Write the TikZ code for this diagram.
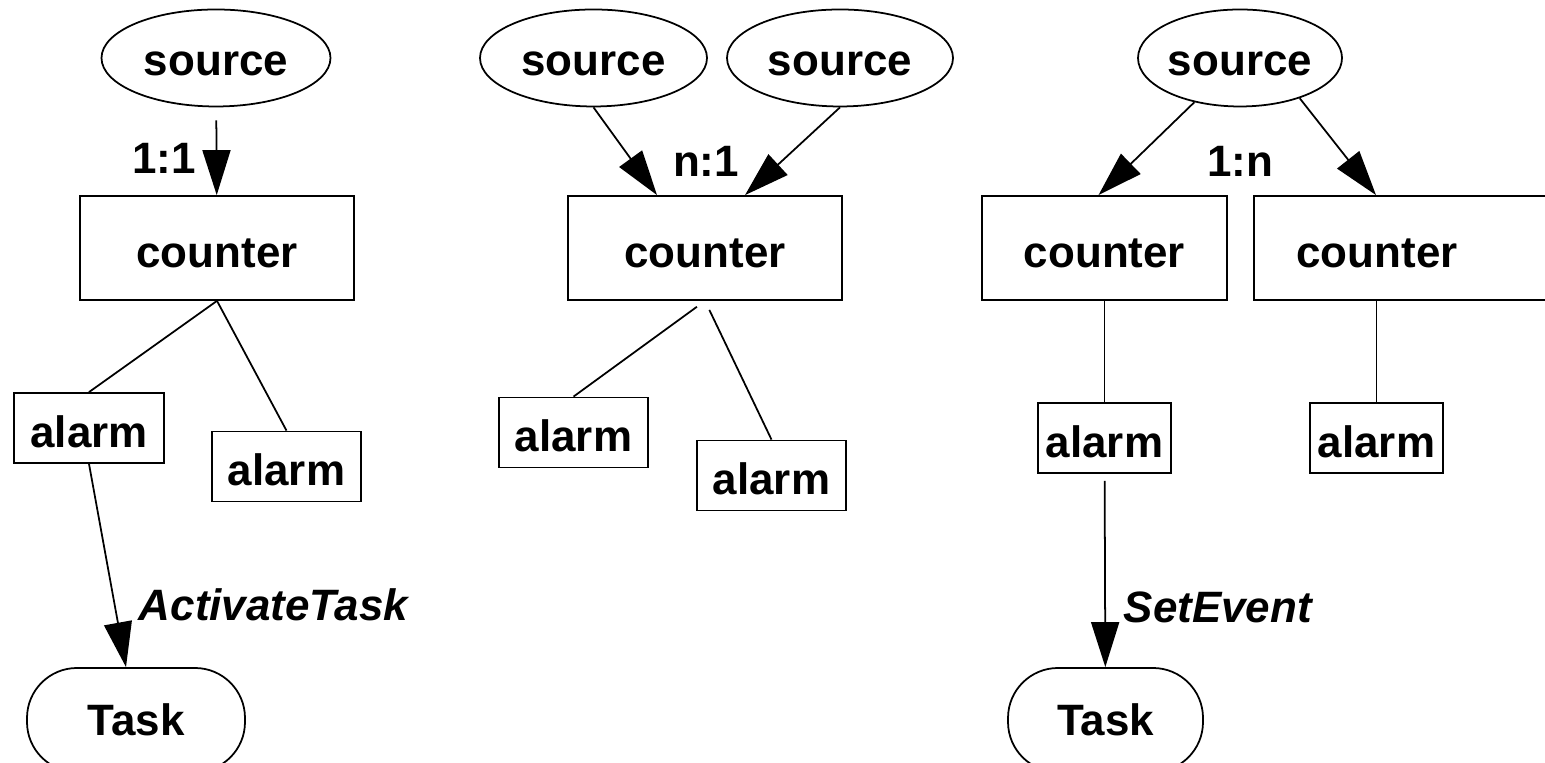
\documentclass[tikz,border=0pt]{standalone}
\usepackage{fontspec}
\setmainfont{Liberation Sans}
\usetikzlibrary{arrows.meta, shapes.geometric}

\begin{document}
\begin{tikzpicture}[line width = 0.5pt,
                    font = \fontsize{12.5}{14}\selectfont\bfseries,
                    >= {Triangle[length = 0.45cm, width = 0.28cm]},
                    oval/.style = {ellipse, draw, minimum height = 0.97cm, inner sep = 0pt, text height = 10pt, text depth = 0pt},
                    block/.style = {rectangle, draw, minimum height = 1.04cm, inner sep = 0pt, text height = 11pt, text depth = 0pt},
                    alarmbox/.style = {rectangle, draw, minimum height = 0.70cm, inner sep = 0pt, text height = 11pt, text depth = 0pt},
                    pill/.style = {rectangle, draw, rounded corners = 0.5cm, minimum height = 1.04cm, inner sep = 0pt},
                    call/.style = {anchor = base west, inner sep = 0pt, font = \fontsize{12.5}{14}\selectfont\bfseries\itshape}]
  \useasboundingbox (0, 0) rectangle (15.45, 7.63);
  \clip (0, 0) rectangle (15.45, 7.63);

  % 1:1
  \node [oval, minimum width = 2.29cm] (S1) at (2.16, 7.05) {source};
  \node [block, minimum width = 2.74cm] (C1) at (2.17, 5.15) {counter};
  \node [alarmbox, minimum width = 1.50cm] (A11) at (0.89, 3.35) {alarm};
  \node [alarmbox, minimum width = 1.49cm] (A12) at (2.865, 2.965) {alarm};
  \node [pill, minimum width = 2.18cm] (T1) at (1.36, 0.43) {Task};

  \draw [->, shorten <= 0.13cm] (S1) -- (C1);
  \draw (C1.south) -- (A11.north);
  \draw (C1.south) -- (A12.north);
  \draw [->] (A11.south) -- ([xshift = -0.10cm]T1.north);

  \node [anchor = base] (L1) at (1.64, 5.89) {1:1};
  \node [call] (E1) at (1.38, 1.42) {ActivateTask};

  % n:1
  \node [oval, minimum width = 2.27cm] (S2) at (5.935, 7.05) {source};
  \node [oval, minimum width = 2.26cm] (S3) at (8.40, 7.05) {source};
  \node [block, minimum width = 2.74cm] (C2) at (7.05, 5.15) {counter};
  \node [alarmbox, minimum width = 1.49cm] (A21) at (5.735, 3.305) {alarm};
  \node [alarmbox, minimum width = 1.49cm] (A22) at (7.715, 2.875) {alarm};

  \draw [->] (S2.south) -- ([xshift = -0.48cm]C2.north);
  \draw [->] (S3.south) -- ([xshift = 0.40cm]C2.north);
  \draw [shorten <= 0.1cm] (C2.south) -- (A21.north);
  \draw [shorten <= 0.1cm] (C2.south) -- (A22.north);

  \node [anchor = base] (L2) at (7.06, 5.86) {n:1};

  % 1:n
  \node [oval, minimum width = 2.04cm] (S4) at (12.40, 7.05) {source};
  \node [block, minimum width = 2.45cm] (C3) at (11.045, 5.15) {counter};
  \node [block, minimum width = 3.00cm] (C4) at (14.04, 5.15) {\hspace*{-0.54cm}counter};
  \node [alarmbox, minimum width = 1.33cm] (A31) at (11.045, 3.25) {alarm};
  \node [alarmbox, minimum width = 1.33cm] (A32) at (13.765, 3.25) {alarm};
  \node [pill, minimum width = 1.95cm] (T2) at (11.055, 0.43) {Task};

  \draw [->] (S4) -- ([xshift = -0.06cm]C3.north);
  \draw [->] (S4.326) -- ([xshift = -0.28cm]C4.north);
  \draw (C3) -- (A31);
  \draw (A32.north) -- (A32.north |- C4.south);
  \draw [->, shorten <= 0.07cm] (A31) -- (T2);

  \node [anchor = base] (L3) at (12.40, 5.86) {1:n};
  \node [call] (E2) at (11.23, 1.40) {SetEvent};
\end{tikzpicture}
\end{document}
